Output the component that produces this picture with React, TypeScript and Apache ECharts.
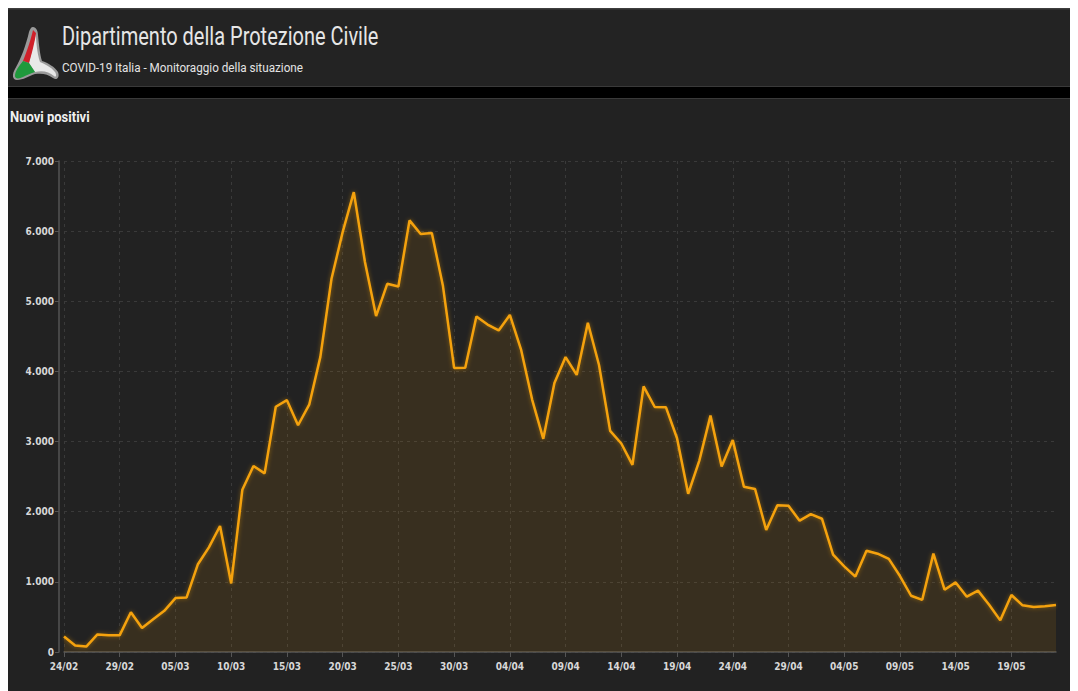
import React, { useEffect, useRef } from "react";
import * as echarts from "echarts";

const dates = [
  "24/02","25/02","26/02","27/02","28/02","29/02",
  "01/03","02/03","03/03","04/03","05/03","06/03","07/03","08/03","09/03","10/03",
  "11/03","12/03","13/03","14/03","15/03","16/03","17/03","18/03","19/03","20/03",
  "21/03","22/03","23/03","24/03","25/03","26/03","27/03","28/03","29/03","30/03","31/03",
  "01/04","02/04","03/04","04/04","05/04","06/04","07/04","08/04","09/04","10/04",
  "11/04","12/04","13/04","14/04","15/04","16/04","17/04","18/04","19/04","20/04",
  "21/04","22/04","23/04","24/04","25/04","26/04","27/04","28/04","29/04","30/04",
  "01/05","02/05","03/05","04/05","05/05","06/05","07/05","08/05","09/05","10/05",
  "11/05","12/05","13/05","14/05","15/05","16/05","17/05","18/05","19/05","20/05",
  "21/05","22/05","23/05",
];

const nuoviPositivi = [
  221, 93, 78, 250, 238, 240,
  566, 342, 466, 587, 769, 778, 1247, 1492, 1797, 977,
  2313, 2651, 2547, 3497, 3590, 3233, 3526, 4207, 5322, 5986,
  6557, 5560, 4789, 5249, 5210, 6153, 5959, 5974, 5217, 4050, 4053,
  4782, 4668, 4585, 4805, 4316, 3599, 3039, 3836, 4204, 3951,
  4694, 4092, 3153, 2972, 2667, 3786, 3493, 3491, 3047, 2256,
  2729, 3370, 2646, 3021, 2357, 2324, 1739, 2091, 2086, 1872,
  1965, 1900, 1389, 1221, 1075, 1444, 1401, 1327, 1083, 802,
  744, 1402, 888, 992, 789, 875, 675, 451, 813, 665,
  642, 652, 669,
];

const yTicks = { min: 0, max: 7000, interval: 1000 };

const titleText = "Dipartimento della Protezione Civile";
const subtitleText = "COVID-19 Italia - Monitoraggio della situazione";
const chartTitle = "Nuovi positivi";

const fmt = (v: number) => String(v).replace(/\B(?=(\d{3})+(?!\d))/g, ".");

const narrow = "'Liberation Sans Narrow', 'DejaVu Sans Condensed', 'Roboto', sans-serif";

echarts.graphic.registerShape(
  "dpcRed",
  echarts.graphic.extendPath("M22,17 C20,26 16,38 12,48 L18,50 C21,40 24,28 25,20 Z", {})
);
echarts.graphic.registerShape(
  "dpcGreen",
  echarts.graphic.extendPath("M12,48 C8,53 4,58 4,63 C4,66 8,66 12,64 C16,62 20,60 24,59 L18,50 Z", {})
);
echarts.graphic.registerShape(
  "dpcWhite",
  echarts.graphic.extendPath("M24,59 C32,57 38,59 43,63 C45,65 46,62 44,59 C40,54 34,51 29,49 C26,40 25,28 25,20 L18,50 Z", {})
);
echarts.graphic.registerShape(
  "dpcOutline",
  echarts.graphic.extendPath("M22,14 C25,14 27,18 27,22 C28,32 29,42 31,48 C37,50 44,54 47,59 C49,64 46,68 42,65 C37,61 31,60 24,61 C18,63 12,67 6,67 C1,67 1,61 4,56 C10,46 15,32 18,19 C19,16 20,14 22,14 Z", {})
);

export default function App() {
  const ref = useRef<HTMLDivElement>(null);

  useEffect(() => {
    if (!ref.current) return;
    const chart = echarts.init(ref.current, null, { renderer: "svg" });
    chart.setOption({
      animation: false,
      backgroundColor: "#222222",
      grid: { left: 56, right: 22, top: 153, bottom: 39 },
      graphic: [
        { type: "rect", shape: { x: 0, y: 0, width: 1070, height: 79 }, style: { fill: "#232323" }, silent: true },
        { type: "rect", shape: { x: 0, y: 0, width: 1070, height: 1.5 }, style: { fill: "#3e3e3e" }, silent: true },
        { type: "rect", shape: { x: 0, y: 78, width: 1070, height: 1 }, style: { fill: "#3a3a3a" }, silent: true },
        { type: "rect", shape: { x: 0, y: 79, width: 1070, height: 11 }, style: { fill: "#000000" }, silent: true },
        { type: "rect", shape: { x: 0, y: 90, width: 1070, height: 1 }, style: { fill: "#3a3a3a" }, silent: true },
        { type: "dpcOutline", x: 3, y: 5, style: { fill: "#9a9a9a" }, silent: true },
        { type: "dpcWhite", x: 3, y: 5, style: { fill: "#e8e8e8" }, silent: true },
        { type: "dpcRed", x: 3, y: 5, style: { fill: "#d0202a" }, silent: true },
        { type: "dpcGreen", x: 3, y: 5, style: { fill: "#1f9a3c" }, silent: true },
        {
          type: "text", x: 54, y: 29, scaleX: 0.8, silent: true,
          style: { x: 0, y: 0, text: titleText, fill: "#e6e6e6", font: "400 25px Roboto, sans-serif", textVerticalAlign: "middle" },
        },
        {
          type: "text", x: 54, y: 60, scaleX: 0.9, silent: true,
          style: { x: 0, y: 0, text: subtitleText, fill: "#e4e4e4", font: "400 13px Roboto, sans-serif", textVerticalAlign: "middle" },
        },
        {
          type: "text", x: 2, y: 109, scaleX: 0.93, silent: true,
          style: { x: 0, y: 0, text: chartTitle, fill: "#f0f0f0", font: "700 14px Roboto, sans-serif", textVerticalAlign: "middle" },
        },
      ],
      xAxis: {
        type: "category",
        data: dates,
        boundaryGap: false,
        axisLine: { show: true, lineStyle: { color: "#555555", width: 1.5 } },
        axisTick: { show: true, interval: 4, length: 5, lineStyle: { color: "#555555" } },
        axisLabel: {
          interval: 4,
          color: "#d8d8d8",
          fontSize: 10,
          fontWeight: "bold",
          fontFamily: narrow,
          margin: 9,
        },
        splitLine: { show: true, interval: 4, lineStyle: { color: "#3a3a3a", type: [3, 4], width: 1 } },
      },
      yAxis: {
        type: "value",
        min: yTicks.min,
        max: yTicks.max,
        interval: yTicks.interval,
        offset: 5,
        axisLine: { show: true, lineStyle: { color: "#555555", width: 1.5 } },
        axisTick: { show: true, length: 4, lineStyle: { color: "#555555" } },
        axisLabel: {
          color: "#d8d8d8",
          fontSize: 10,
          fontWeight: "bold",
          fontFamily: narrow,
          margin: 5,
          formatter: (v: number) => fmt(v),
        },
        splitLine: { show: true, lineStyle: { color: "#3a3a3a", type: [3, 4], width: 1 } },
      },
      series: [
        {
          type: "line",
          data: nuoviPositivi,
          symbol: "none",
          lineStyle: {
            color: "#f5a20e",
            width: 2.5,
            shadowColor: "rgba(245,162,14,0.45)",
            shadowBlur: 4,
          },
          areaStyle: { color: "rgba(245,162,14,0.15)" },
        },
      ],
    });
    return () => chart.dispose();
  }, []);

  return <div ref={ref} style={{ width: 1070, height: 683 }} />;
}
